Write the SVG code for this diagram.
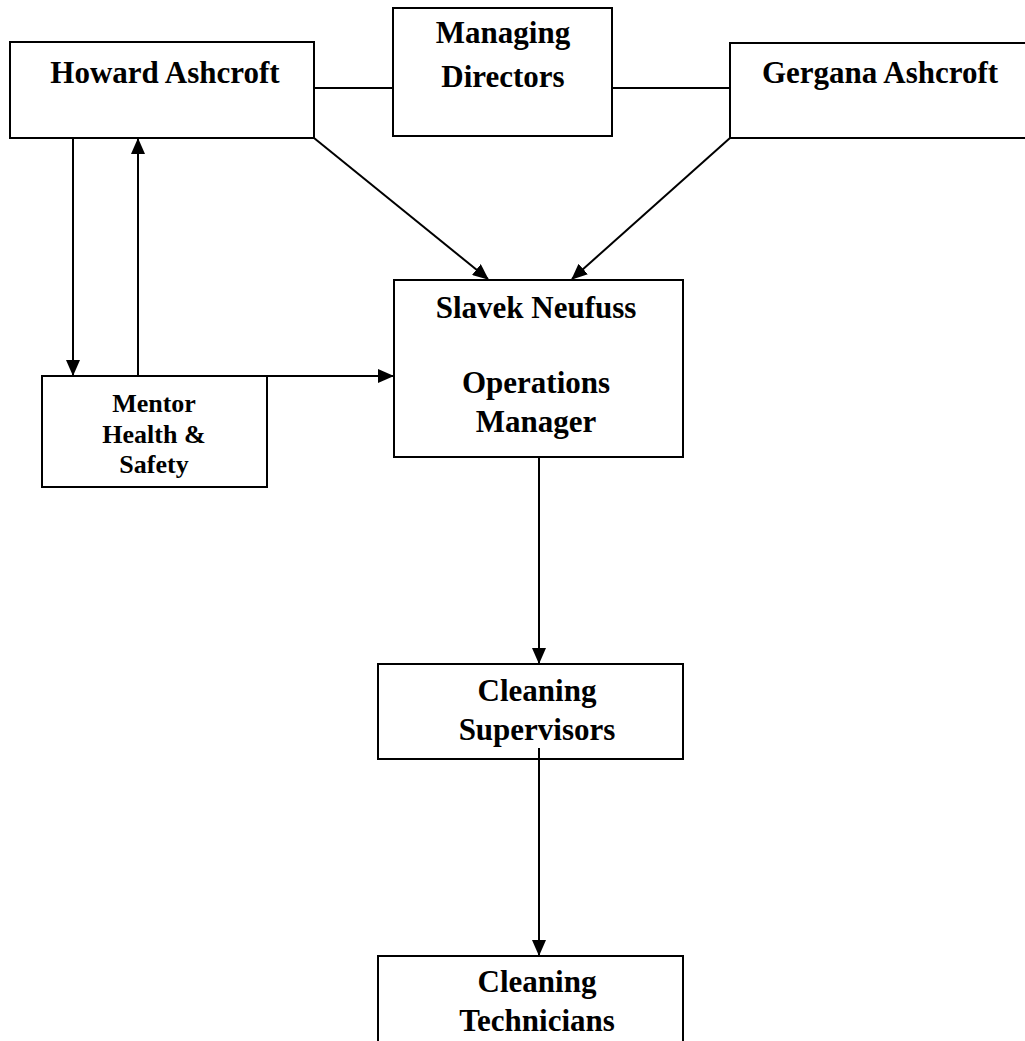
<svg xmlns="http://www.w3.org/2000/svg" width="1025" height="1041" viewBox="0 0 1025 1041">
<style>
.box{fill:#fff;stroke:#000;stroke-width:2}
.t{font-family:"Liberation Serif","Times New Roman",serif;font-weight:bold;font-size:31px;text-anchor:middle;fill:#000}
.s{font-size:26px}
.c{stroke:#000;stroke-width:2;fill:none}
</style>
<defs>
<marker id="ah" markerWidth="16" markerHeight="14" refX="15" refY="7" orient="auto" markerUnits="userSpaceOnUse">
<path d="M0,0 L16,7 L0,14 Z" fill="#000"/>
</marker>
<clipPath id="mclip"><rect x="42" y="376" width="225" height="103"/></clipPath>
</defs>
<rect width="1025" height="1041" fill="#fff"/>
<g id="howard">
<rect class="box" x="10" y="42" width="304" height="96"/>
<text class="t" x="165" y="83">Howard Ashcroft</text>
</g>
<g id="managing">
<rect class="box" x="393" y="8" width="219" height="128"/>
<text class="t" x="503" y="43">Managing</text>
<text class="t" x="503" y="87">Directors</text>
</g>
<g id="gergana">
<rect class="box" x="730" y="43" width="310" height="95"/>
<text class="t" x="880" y="83">Gergana Ashcroft</text>
</g>
<g id="slavek">
<rect class="box" x="394" y="280" width="289" height="177"/>
<text class="t" x="536" y="318">Slavek Neufuss</text>
<text class="t" x="536" y="393">Operations</text>
<text class="t" x="536" y="432">Manager</text>
</g>
<g id="mentor">
<rect class="box" x="42" y="376" width="225" height="111"/>
<g clip-path="url(#mclip)">
<text class="t s" x="154" y="412">Mentor</text>
<text class="t s" x="154" y="443">Health &amp;</text>
<text class="t s" x="154" y="473">Safety</text>
</g>
</g>
<g id="supervisors">
<rect class="box" x="378" y="664" width="305" height="95"/>
<text class="t" x="537" y="701">Cleaning</text>
<text class="t" x="537" y="740">Supervisors</text>
</g>
<g id="technicians">
<path class="box" d="M378,1045 L378,956 L683,956 L683,1045"/>
<text class="t" x="537" y="992">Cleaning</text>
<text class="t" x="537" y="1031">Technicians</text>
</g>
<g id="connectors">
<line class="c" x1="314" y1="88" x2="393" y2="88"/>
<line class="c" x1="612" y1="88" x2="730" y2="88"/>
<line class="c" x1="314" y1="138" x2="488" y2="279" marker-end="url(#ah)"/>
<line class="c" x1="730" y1="138" x2="572" y2="279" marker-end="url(#ah)"/>
<line class="c" x1="73" y1="138" x2="73" y2="375" marker-end="url(#ah)"/>
<line class="c" x1="138" y1="376" x2="138" y2="139" marker-end="url(#ah)"/>
<line class="c" x1="138" y1="376" x2="393" y2="376" marker-end="url(#ah)"/>
<line class="c" x1="539" y1="457" x2="539" y2="663" marker-end="url(#ah)"/>
<line class="c" x1="539" y1="748" x2="539" y2="955" marker-end="url(#ah)"/>
</g>
</svg>
